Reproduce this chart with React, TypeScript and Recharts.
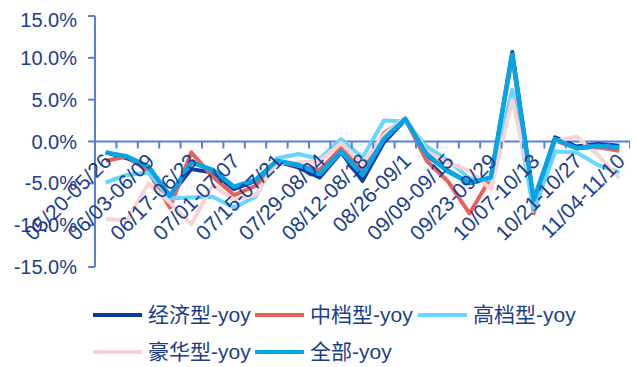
import React from 'react';
import { LineChart, Line, XAxis, YAxis, ReferenceLine, Legend } from 'recharts';

const weeks = [
  '05/20-05/26', '05/27-06/02', '06/03-06/09', '06/10-06/16', '06/17-06/23',
  '06/24-06/30', '07/01-07/07', '07/08-07/14', '07/15-07/21', '07/22-07/28',
  '07/29-08/04', '08/05-08/11', '08/12-08/18', '08/19-08/25', '08/26-09/1',
  '09/02-09/08', '09/09-09/15', '09/16-09/22', '09/23-09/29', '09/30-10/06',
  '10/07-10/13', '10/14-10/20', '10/21-10/27', '10/28-11/03', '11/04-11/10',
];

const economy = [-1.3, -2.0, -3.2, -6.5, -3.3, -3.7, -5.7, -4.7, -2.4, -3.1, -4.3, -1.3, -4.7, -0.1, 2.6, -1.7, -3.5, -5.0, -4.4, 10.7, -7.0, 0.5, -0.6, -0.3, -0.5];
const midRange = [-2.3, -1.8, -3.6, -7.9, -1.3, -4.2, -6.4, -5.3, -2.4, -2.9, -3.4, -0.8, -3.6, 1.0, 2.7, -2.3, -4.8, -8.6, -4.3, 10.2, -8.6, 0.1, -0.8, -0.7, -1.1];
const upscale = [-4.9, -4.0, -3.7, -6.8, -6.7, -6.6, -7.9, -6.6, -2.0, -1.5, -2.1, 0.3, -1.9, 2.5, 2.4, -0.6, -2.3, -4.4, -4.6, 6.2, -8.3, -1.2, -1.3, -2.8, -3.7];
const luxury = [-9.3, -9.4, -5.0, -7.3, -9.9, -5.2, -7.0, -6.4, -2.6, -2.5, -2.3, -0.2, -2.6, 0.8, 2.9, -1.2, -2.5, -3.5, -5.7, 5.0, -6.5, 0.0, 0.6, -1.6, -4.4];
const allTypes = [-1.3, -1.8, -3.0, -6.5, -2.5, -3.4, -5.4, -4.6, -2.3, -2.8, -3.9, -1.2, -4.0, 0.3, 2.7, -1.5, -3.6, -4.9, -4.3, 10.4, -7.0, 0.3, -0.8, -0.5, -0.7];

const yTicks = [-15, -10, -5, 0, 5, 10, 15];

const seriesNames = ['经济型-yoy', '中档型-yoy', '高档型-yoy', '豪华型-yoy', '全部-yoy'];
const seriesKeys = ['economy', 'mid', 'high', 'lux', 'all'];
const seriesColors = ['#0a3a9a', '#e8605e', '#66d6ff', '#f9d3d3', '#00a6e6'];
const seriesWidths = [4, 4, 4, 4, 4.5];

const data = weeks.map((w, i) => ({
  week: w,
  economy: economy[i],
  mid: midRange[i],
  high: upscale[i],
  lux: luxury[i],
  all: allTypes[i],
}));

const W = 630;
const H = 359;
const TOP = 8;
const PLOT_H = 251;
const PLOT_W = 535;
const ZERO_Y = TOP + PLOT_H / 2;
const BAND = PLOT_W / weeks.length;
const AXIS = '#5a7fd8';
const TEXT = '#1a3d8f';
const FONT = '"Liberation Sans", Arial, "Noto Sans CJK SC", sans-serif';

const XTick = (props: any) => {
  const { x, payload, index } = props;
  const lx = x + 7;
  const ly = ZERO_Y + 21;
  return (
    <g>
      <line x1={x + BAND / 2} x2={x + BAND / 2} y1={ZERO_Y} y2={ZERO_Y + 7} stroke={AXIS} strokeWidth={2} />
      {index === 0 && (
        <line x1={x - BAND / 2} x2={x - BAND / 2} y1={ZERO_Y} y2={ZERO_Y + 7} stroke={AXIS} strokeWidth={2} />
      )}
      {index % 2 === 0 && (
        <text
          x={lx}
          y={ly}
          transform={`rotate(-45 ${lx} ${ly})`}
          textAnchor="end"
          fill={TEXT}
          fontSize={21}
          fontFamily={FONT}
        >
          {payload.value}
        </text>
      )}
    </g>
  );
};

const LegendContent = () => {
  const pos = [
    [0, 28], [162, 28], [325, 28],
    [0, 65], [162, 65],
  ];
  return (
    <div style={{ position: 'relative', width: W, height: 80 }}>
      {seriesNames.map((n, i) => (
        <div
          key={n}
          style={{
            position: 'absolute',
            left: 85 + pos[i][0],
            top: pos[i][1] - 13,
            height: 26,
            display: 'flex',
            alignItems: 'center',
            whiteSpace: 'nowrap',
          }}
        >
          <div style={{ width: 49, height: 4, background: seriesColors[i], marginRight: 6 }} />
          <span style={{ fontFamily: FONT, fontSize: 21, color: TEXT, lineHeight: '26px' }}>{n}</span>
        </div>
      ))}
    </div>
  );
};

export default function App() {
  return (
    <LineChart width={W} height={H} data={data} margin={{ top: TOP, right: 8, left: 0, bottom: 0 }}>
      <YAxis
        domain={[-15, 15]}
        ticks={yTicks}
        width={87}
        tickFormatter={(v: number) => `${v.toFixed(1)}%`}
        axisLine={{ stroke: AXIS, strokeWidth: 2 }}
        tickLine={{ stroke: AXIS, strokeWidth: 2 }}
        tickSize={7}
        tickMargin={11}
        tick={{ fill: TEXT, fontSize: 20, fontFamily: FONT }}
        allowDataOverflow
      />
      <ReferenceLine y={0} stroke={AXIS} strokeWidth={2} />
      {seriesKeys.map((k, i) => (
        <Line
          key={k}
          type="linear"
          dataKey={k}
          name={seriesNames[i]}
          stroke={seriesColors[i]}
          strokeWidth={seriesWidths[i]}
          dot={false}
          activeDot={false}
          isAnimationActive={false}
          strokeLinejoin="round"
        />
      ))}
      <XAxis
        dataKey="week"
        interval={0}
        axisLine={false}
        tickLine={false}
        height={20}
        padding={{ left: BAND / 2, right: BAND / 2 }}
        tick={<XTick />}
      />
      <Legend verticalAlign="bottom" content={<LegendContent />} wrapperStyle={{ left: 0, width: W }} />
    </LineChart>
  );
}
